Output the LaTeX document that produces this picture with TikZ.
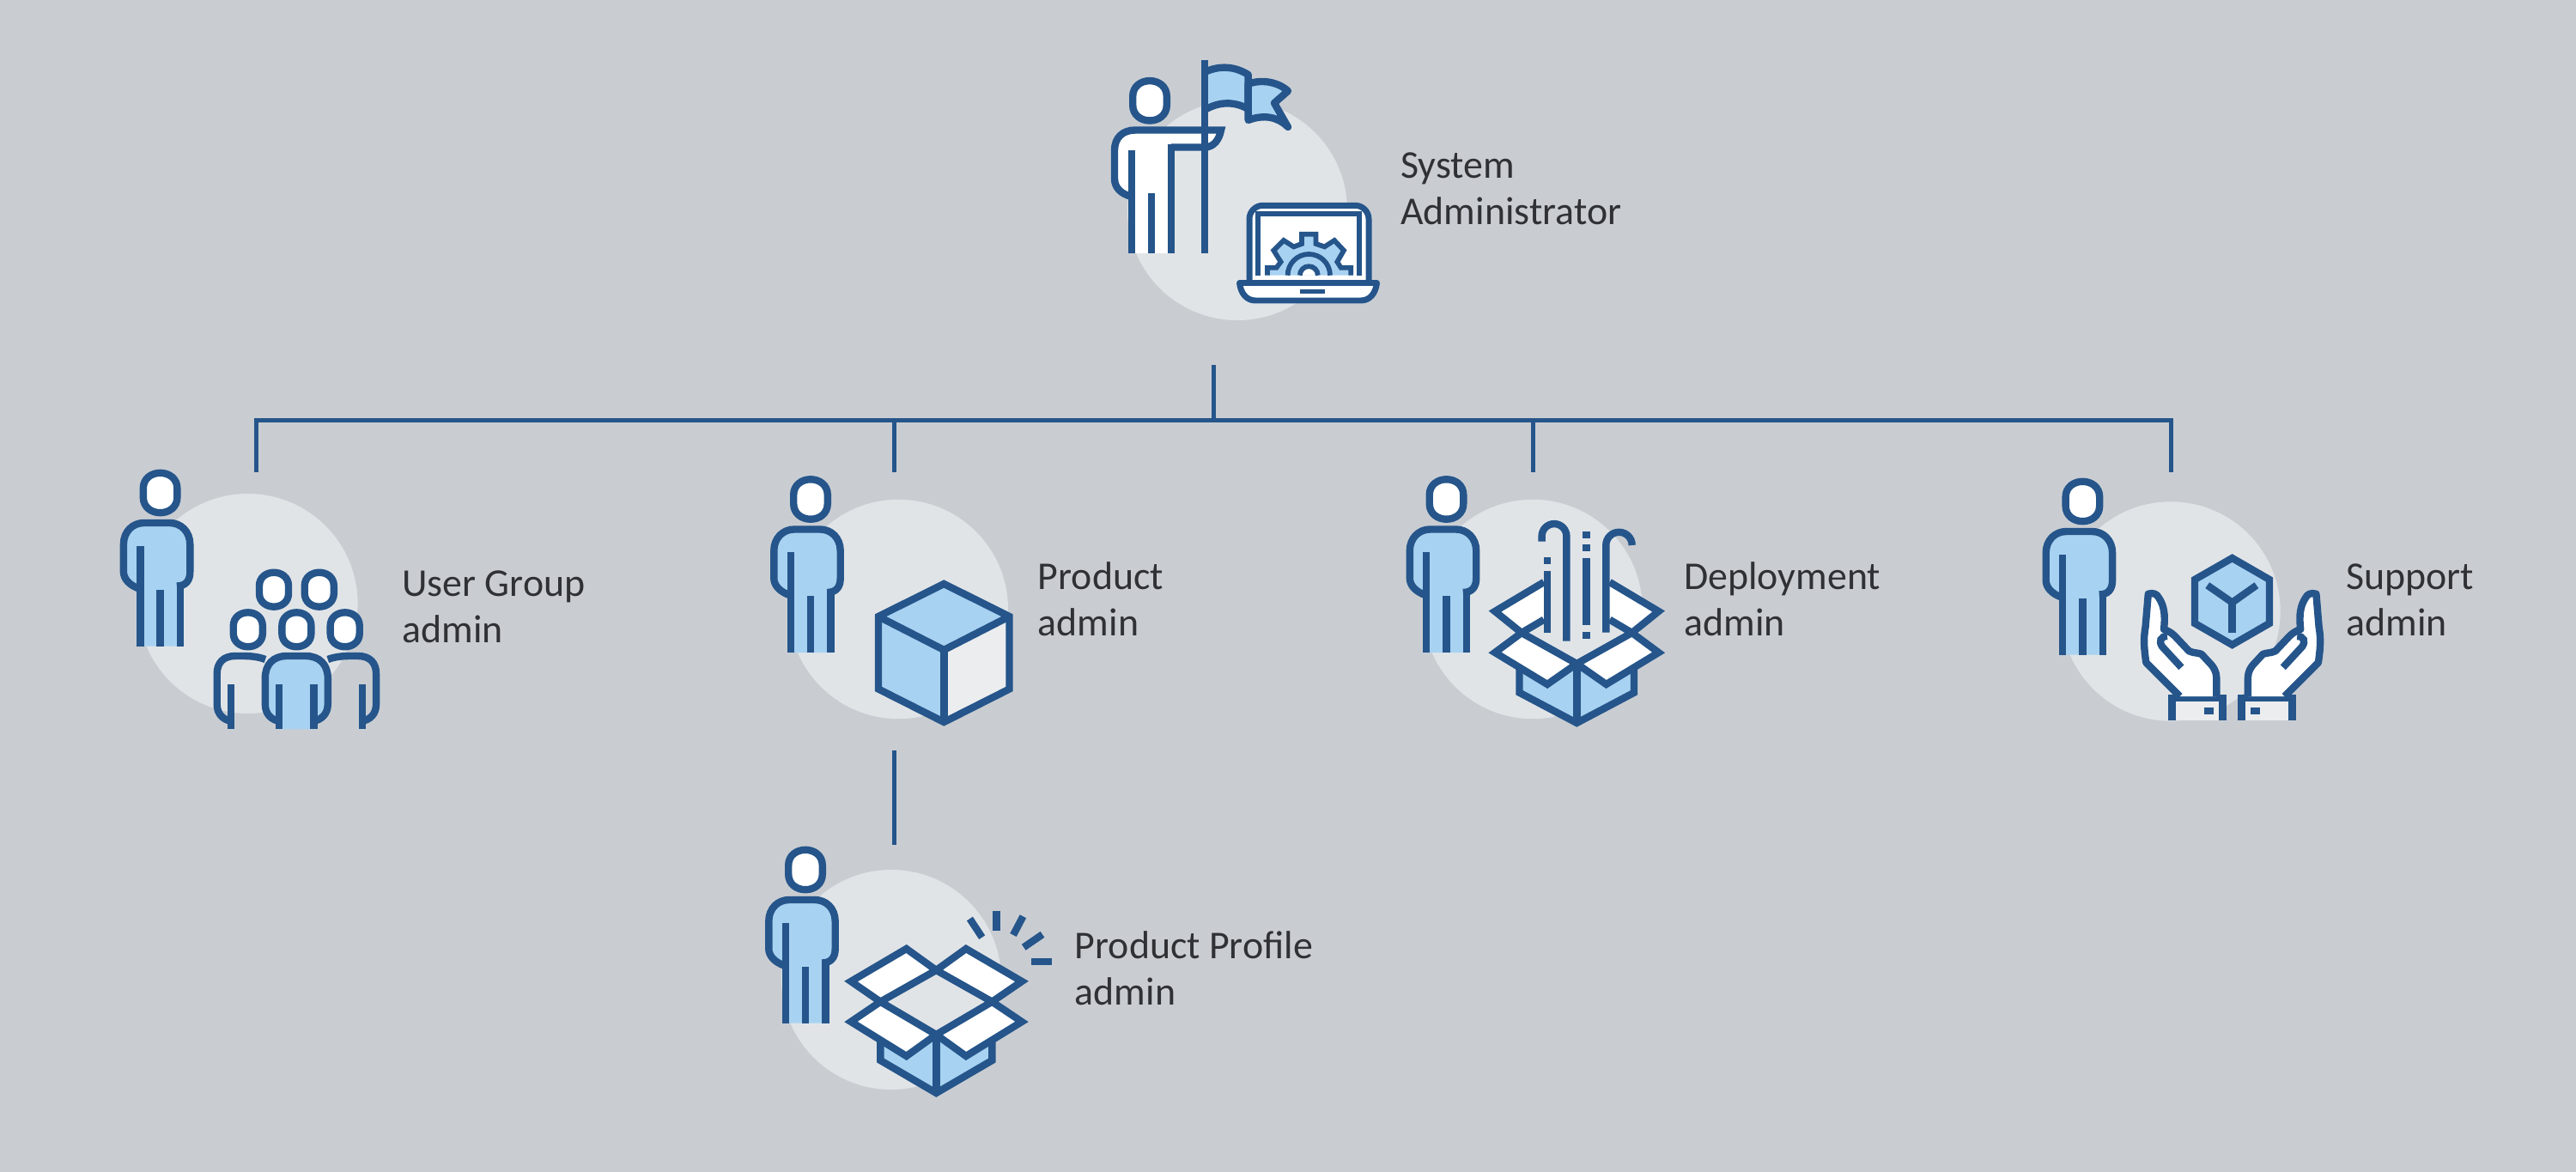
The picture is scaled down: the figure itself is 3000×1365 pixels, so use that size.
\documentclass[tikz,border=0pt]{standalone}
\usepackage{fontspec}
\setmainfont{Carlito}
\definecolor{bgc}{HTML}{C9CDD2}
\definecolor{blob}{HTML}{E1E4E7}
\definecolor{dk}{HTML}{25558A}
\definecolor{lb}{HTML}{A8D2F1}
\definecolor{pale}{HTML}{ECEDEF}
\definecolor{txt}{HTML}{2F3134}
\tikzset{
  ink/.style={draw=dk,line width=0.168cm,line join=miter,miter limit=10},
  thin ink/.style={draw=dk,line width=0.115cm},
  conn/.style={draw=dk,line width=0.1cm},
  disc/.style={fill=blob,draw=none},
  lbl/.style={anchor=base west,inner sep=0pt,text=txt,align=left,font=\fontsize{26.1}{30.73}\selectfont},
}
\newcommand{\headicon}[3]{%
  \begin{scope}[shift={(#1,#2)},scale=#3]
  \draw[ink,fill=white] (-19.8,-5) .. controls (-19.8,-17) and (-10,-23.2) .. (0,-23.2)
    .. controls (10,-23.2) and (19.8,-17) .. (19.8,-5) -- (19.8,5)
    .. controls (19.8,17) and (10,23.2) .. (0,23.2)
    .. controls (-10,23.2) and (-19.8,17) .. (-19.8,5) -- cycle;
  \end{scope}}
\newcommand{\personicon}[2]{%
  \headicon{#1}{#2}{1}
  \begin{scope}[shift={(#1,#2)}]
  \fill[lb] (-23.3,112) .. controls (-36,108) and (-42.7,100) .. (-42.7,92) -- (-42.7,60)
    .. controls (-42.7,45) and (-32,35) .. (-19,35) -- (11,35)
    .. controls (24,35) and (34.7,45) .. (34.7,60) -- (34.7,92)
    .. controls (34.7,102) and (30,108.5) .. (19.3,108.5) -- (23.3,178.7) -- (-23.3,178.7) -- cycle;
  \draw[ink] (-23.3,112) .. controls (-36,108) and (-42.7,100) .. (-42.7,92) -- (-42.7,60)
    .. controls (-42.7,45) and (-32,35) .. (-19,35) -- (11,35)
    .. controls (24,35) and (34.7,45) .. (34.7,60) -- (34.7,92)
    .. controls (34.7,102) and (30,108.5) .. (19.3,108.5);
  \draw[ink] (-23.3,61.8) -- (-23.3,178.7);
  \draw[ink] (0,112.5) -- (0,178.7);
  \draw[ink] (23.3,104.5) -- (23.3,178.7);
  \end{scope}}
\newcommand{\handicon}{%
  \draw[ink,fill=pale] (2529.6,839) -- (2529.6,813) -- (2588.6,813) -- (2588.6,839);
  \fill[dk] (2567,824) rectangle (2578,832);
  \draw[ink,fill=white,line join=round] (2538.6,811) -- (2499.3,771.7)
    .. controls (2497,755) and (2496,745) .. (2498.6,730) -- (2501.8,691.7)
    .. controls (2508,690) and (2512,692) .. (2514,696)
    .. controls (2520,705) and (2522,715) .. (2520,733)
    .. controls (2526,735) and (2530,738) .. (2533,741)
    -- (2549.3,758.3) .. controls (2555,761) and (2560,760) .. (2564,762)
    -- (2576,775) .. controls (2581,782) and (2581.4,785) .. (2581.4,795) -- (2581.4,811);
  \draw[ink] (2540.4,777.3) -- (2518,753) .. controls (2514,747) and (2516,741) .. (2524,741);
}
\begin{document}
\begin{tikzpicture}[x=0.02cm,y=-0.02cm]
\path[use as bounding box,fill=bgc] (0,0) rectangle (3000,1365);

% background discs
\fill[disc] (1441,245) circle (128);
\fill[disc] (288.6,703) circle (128);
\fill[disc] (1046.3,709.5) circle (127.7);
\fill[disc] (1785,709.5) circle (127.7);
\fill[disc] (2528,712) circle (127.7);
\fill[disc] (1038,1141) circle (128);

% connectors
\coordinate (sysstem) at (1413.6,425);
\coordinate (trunk) at (1413.6,489);
\coordinate (jug) at (298,489);
\coordinate (jpa) at (1041.5,489);
\coordinate (jda) at (1785,489);
\coordinate (jsa) at (2528,489);
\coordinate (ug) at (298,550);
\coordinate (pa) at (1041.5,550);
\coordinate (da) at (1785,550);
\coordinate (sa) at (2528,550);
\coordinate (pabelow) at (1041.5,874);
\coordinate (pp) at (1041.5,984);
\draw[conn] (sysstem) -- (trunk);
\draw[conn,line cap=rect] (jug) -- (jsa);
\draw[conn] (jug) -- (ug);
\draw[conn] (jpa) -- (pa);
\draw[conn] (jda) -- (da);
\draw[conn] (jsa) -- (sa);
\draw[conn] (pabelow) -- (pp);

% ---- system administrator
\headicon{1339}{117.3}{1}
\draw[ink,fill=lb,line join=round] (1403,84) .. controls (1420,76) and (1438,77) .. (1453.6,87)
  -- (1453.6,127) .. controls (1438,118) and (1420,118) .. (1403,128);
\draw[ink,fill=lb,line join=round] (1453.6,98) .. controls (1468,92) and (1488,95) .. (1500,106)
  -- (1484,120) -- (1500,148) .. controls (1488,136) and (1472,133) .. (1453.6,140) -- cycle;
\fill[white] (1298,208) -- (1298,175) .. controls (1298,160) and (1308,151.5) .. (1322,151.5) -- (1422,151.5)
  .. controls (1420,162) and (1414,171.5) .. (1403,171.5) -- (1364,171.5) -- (1364,295) -- (1318,295) -- (1318,229)
  .. controls (1305,226) and (1298,218) .. (1298,208);
\draw[ink] (1318,229) .. controls (1305,226) and (1298,218) .. (1298,208) -- (1298,175)
  .. controls (1298,160) and (1308,151.5) .. (1322,151.5) -- (1422,151.5)
  .. controls (1420,162) and (1414,171.5) .. (1403,171.5) -- (1364,171.5);
\draw[ink] (1317.7,175) -- (1317.7,295);
\draw[ink] (1341,225) -- (1341,295);
\draw[ink] (1364,168) -- (1364,295);
\draw[ink] (1403,70) -- (1403,295);
% laptop
\draw[ink,line width=0.14cm,fill=white,rounded corners=9] (1455,329) -- (1455,239.3) -- (1594,239.3) -- (1594,329);
\draw[thin ink] (1465,321) -- (1465,249.3) -- (1583.3,249.3) -- (1583.3,321);
\begin{scope}[shift={(1524.3,320.7)}]
\draw[thin ink,fill=lb] (-48.3,0) -- (-48.3,-9) -- (-37.7,-9) -- (-32.7,-15.7) -- (-41,-29) -- (-29.3,-40.7)
  -- (-17.7,-33.3) -- (-8.3,-36.7) -- (-8.3,-48) -- (8.3,-48) -- (8.3,-36.7) -- (18.3,-33.3) -- (29.7,-40.7)
  -- (40.7,-29) -- (33,-15.7) -- (37.3,-9) -- (49,-9) -- (49,0);
\draw[thin ink] (-24.7,0) arc[start angle=180,end angle=360,x radius=24.7,y radius=24.7];
\draw[thin ink,fill=white] (-10.5,0) arc[start angle=180,end angle=360,x radius=10.5,y radius=10.5];
\end{scope}
\draw[ink,line width=0.14cm,fill=white,line join=round] (1443.5,329.5) -- (1603.5,329.5)
  .. controls (1602,342) and (1595,350) .. (1585,350) -- (1462,350)
  .. controls (1452,350) and (1445,342) .. (1443.5,329.5) -- cycle;
\draw[thin ink] (1514,339.5) -- (1543.3,339.5);

% ---- user group admin
\personicon{186.6}{574}
\headicon{319}{686.7}{0.86}
\headicon{371.8}{686.7}{0.86}
\headicon{288.8}{733.3}{0.86}
\headicon{345.4}{733.3}{0.86}
\headicon{401.7}{733.3}{0.86}
\draw[ink] (309,768) .. controls (300,764.5) and (290,764) .. (282,764) -- (274,764)
  .. controls (260,764) and (252.7,772) .. (252.7,785) -- (252.7,820) .. controls (252.7,832) and (260,838) .. (269,840);
\draw[ink] (269,796.7) -- (269,849.3);
\draw[ink] (381.8,768) .. controls (390.8,764.5) and (400.8,764) .. (408.8,764) -- (416.8,764)
  .. controls (430.8,764) and (438.1,772) .. (438.1,785) -- (438.1,820) .. controls (438.1,832) and (430.8,838) .. (421.8,840);
\draw[ink] (421.8,796.7) -- (421.8,849.3);
\fill[lb] (325,840) .. controls (316,838) and (308.8,832) .. (308.8,820) -- (308.8,790)
  .. controls (308.8,774) and (318,764) .. (334,764) -- (356,764) .. controls (372,764) and (381.8,774) .. (381.8,790)
  -- (381.8,820) .. controls (381.8,832) and (374,838) .. (365.3,840) -- (365.3,849.3) -- (325,849.3) -- cycle;
\draw[ink] (325,840) .. controls (316,838) and (308.8,832) .. (308.8,820) -- (308.8,790)
  .. controls (308.8,774) and (318,764) .. (334,764) -- (356,764) .. controls (372,764) and (381.8,774) .. (381.8,790)
  -- (381.8,820) .. controls (381.8,832) and (374,838) .. (365.3,840);
\draw[ink] (325,796.7) -- (325,849.3);
\draw[ink] (365.3,796.7) -- (365.3,849.3);

% ---- product admin
\personicon{944}{581.5}
\fill[lb] (1099.3,680) -- (1023,718) -- (1023,802.5) -- (1099.3,841) -- (1099.3,757) -- (1175.5,718) -- cycle;
\fill[pale] (1099.3,757) -- (1175.5,718) -- (1175.5,802.5) -- (1099.3,841) -- cycle;
\draw[ink] (1099.3,680) -- (1175.5,718) -- (1175.5,802.5) -- (1099.3,841) -- (1023,802.5) -- (1023,718) -- cycle;
\draw[ink,line join=miter] (1023,718) -- (1099.3,757) -- (1175.5,718);
\draw[ink] (1099.3,757) -- (1099.3,841);

% ---- deployment admin
\personicon{1684.5}{581.5}
\draw[ink,fill=lb] (1769.5,780) -- (1769.5,806.7) -- (1836.3,842) -- (1903,806.7) -- (1903,780);
\draw[ink] (1836.3,773) -- (1836.3,842);
\draw[ink,fill=white] (1798,678) -- (1741,712) -- (1772,737) -- (1798,721.7);
\draw[ink,fill=white] (1874.6,678) -- (1931.6,712) -- (1900.6,737) -- (1874.6,721.7);
\draw[ink,fill=white] (1772,737) -- (1836.3,773) -- (1802,797) -- (1741,760) -- cycle;
\draw[ink,fill=white] (1900.6,737) -- (1836.3,773) -- (1870.6,797) -- (1931.6,760) -- cycle;
\draw[ink] (1824.4,746.7) -- (1824.4,624.5) arc[start angle=0,end angle=-180,radius=14.4] -- ++(0,6);
\draw[ink] (1870.3,736.7) -- (1870.3,635) arc[start angle=180,end angle=360,radius=15.2];
\draw[ink] (1802,665) -- (1802,736.7);
\draw[ink] (1802,649) -- (1802,657);
\draw[ink] (1847.4,650) -- (1847.4,728);
\draw[ink] (1847.4,619) -- (1847.4,627);
\draw[ink] (1847.4,634) -- (1847.4,642);
\draw[ink] (1847.4,736) -- (1847.4,744);

% ---- support admin
\personicon{2425.4}{584}
\draw[ink,fill=lb] (2599.6,650) -- (2643,675) -- (2643,726) -- (2599.6,751) -- (2556,726) -- (2556,675) -- cycle;
\draw[ink] (2570.7,681.7) -- (2599.6,701.7) -- (2627.9,681.7);
\draw[ink] (2599.6,701.7) -- (2599.6,736.7);
\handicon
\begin{scope}[shift={(5199.2,0)},xscale=-1]
\handicon
\end{scope}

% ---- product profile admin
\personicon{938}{1013}
\draw[ink,fill=lb] (1025.3,1210) -- (1025.3,1235) -- (1090.3,1273) -- (1155.4,1235) -- (1155.4,1210);
\draw[ink] (1090.3,1205) -- (1090.3,1273);
\draw[ink,fill=white] (1055.6,1105) -- (1090.3,1130) -- (1025.3,1166.7) -- (991,1143) -- cycle;
\draw[ink,fill=white] (1125,1105) -- (1090.3,1130) -- (1155.4,1166.7) -- (1190,1143) -- cycle;
\draw[ink,fill=white] (1025.3,1166.7) -- (1090.3,1205) -- (1055.6,1230) -- (991,1190) -- cycle;
\draw[ink,fill=white] (1155.4,1166.7) -- (1090.3,1205) -- (1125,1230) -- (1190,1190) -- cycle;
\draw[ink] (1129.4,1070) -- (1143.7,1091.7);
\draw[ink] (1160.6,1060.7) -- (1160.6,1084.3);
\draw[ink] (1191.4,1067.3) -- (1180,1089);
\draw[ink] (1214,1088.3) -- (1192.2,1103.3);
\draw[ink] (1201,1120) -- (1224.8,1120);

% ---- labels
\node[lbl] (lsys) at (1631,261.7) {System\\Administrator};
\node[lbl] (lug) at (468,748.3) {User Group\\admin};
\node[lbl] (lpa) at (1208.5,740) {Product\\admin};
\node[lbl] (lda) at (1961,740) {Deployment\\admin};
\node[lbl] (lsa) at (2732,740) {Support\\admin};
\node[lbl] (lpp) at (1251.5,1170.7) {Product Profile\\admin};
\end{tikzpicture}
\end{document}
